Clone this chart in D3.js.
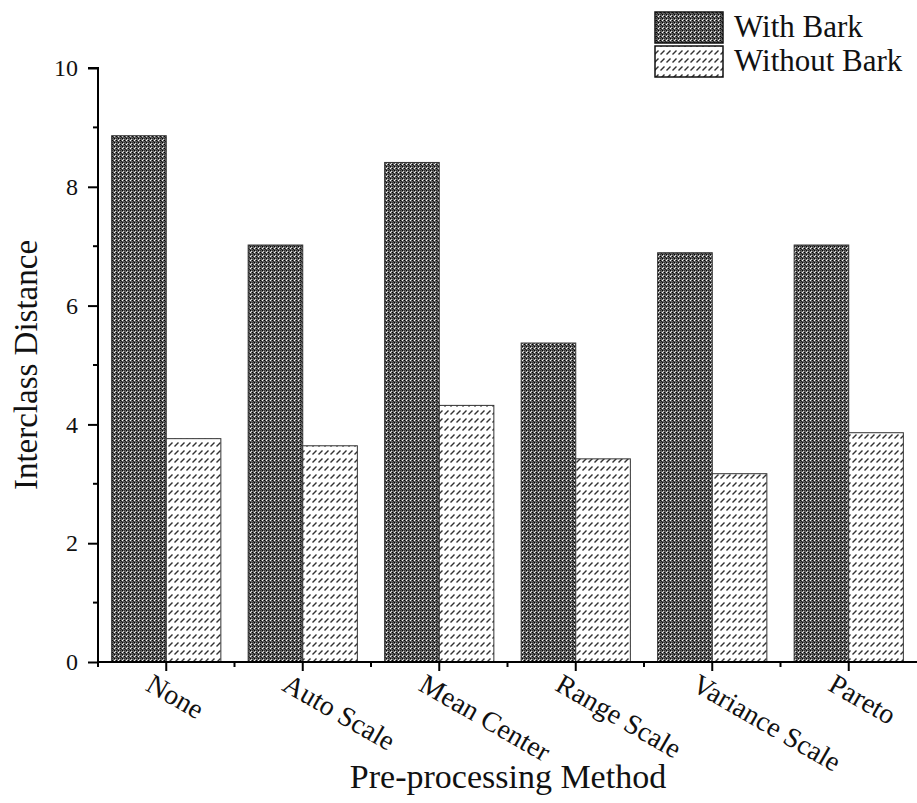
<!DOCTYPE html>
<html>
<head>
<meta charset="utf-8">
<script src="https://cdn.jsdelivr.net/npm/d3@7"></script>
<style>
html,body{margin:0;padding:0;background:#fff;}
svg text{font-family:"Liberation Serif","Times New Roman",serif;fill:#111;}
</style>
</head>
<body>
<svg id="chart" width="917" height="803"></svg>
<script>
const categories = ["None","Auto Scale","Mean Center","Range Scale","Variance Scale","Pareto"];
const seriesNames = ["With Bark","Without Bark"];
const withBark = [8.86, 7.02, 8.41, 5.37, 6.89, 7.02];
const withoutBark = [3.76, 3.64, 4.32, 3.42, 3.17, 3.86];
const yTicks = [0,2,4,6,8,10];
const yMinorTicks = [1,3,5,7,9];

const svg = d3.select("#chart");
const defs = svg.append("defs");

// dense dark pattern
const p1 = defs.append("pattern").attr("id","pDark").attr("patternUnits","userSpaceOnUse")
  .attr("width",4).attr("height",4);
p1.append("rect").attr("width",4).attr("height",4).attr("fill","#606060");
p1.append("rect").attr("x",0).attr("y",0).attr("width",1).attr("height",1).attr("fill","#000");
p1.append("rect").attr("x",2).attr("y",2).attr("width",1).attr("height",1).attr("fill","#000");
p1.append("rect").attr("x",2).attr("y",0).attr("width",1).attr("height",1).attr("fill","#f4f4f4");
p1.append("rect").attr("x",0).attr("y",2).attr("width",1).attr("height",1).attr("fill","#333");
p1.append("rect").attr("x",1).attr("y",1).attr("width",1).attr("height",1).attr("fill","#222");
p1.append("rect").attr("x",3).attr("y",3).attr("width",1).attr("height",1).attr("fill","#ddd");

// hatch pattern
const p2 = defs.append("pattern").attr("id","pHatch").attr("patternUnits","userSpaceOnUse")
  .attr("width",6).attr("height",8);
p2.append("rect").attr("width",6).attr("height",8).attr("fill","#fff");
p2.append("path").attr("d","M0.5,6.5 L4.5,2.5").attr("stroke","#333").attr("stroke-width",1.4);

const x0 = d3.scaleBand().domain(categories).range([98,917]).paddingInner(0.2).paddingOuter(0.1);
const x1 = d3.scaleBand().domain(seriesNames).range([0,x0.bandwidth()]);
const y = d3.scaleLinear().domain([0,10]).range([662,68]);

const fills = {"With Bark":"url(#pDark)","Without Bark":"url(#pHatch)"};
const vals = {"With Bark":withBark,"Without Bark":withoutBark};

const g = svg.append("g");
categories.forEach((c,i)=>{
  seriesNames.forEach(s=>{
    const v = vals[s][i];
    g.append("rect")
      .attr("x", x0(c)+x1(s))
      .attr("y", y(v))
      .attr("width", x1.bandwidth())
      .attr("height", y(0)-y(v))
      .attr("fill", fills[s])
      .attr("stroke","#333").attr("stroke-width",1);
  });
});

// Y axis
const yAxis = svg.append("g").attr("transform","translate(98,0)")
  .call(d3.axisLeft(y).tickValues(yTicks).tickSize(10).tickFormat(d3.format("d")).tickPadding(10));
yAxis.select(".domain").attr("stroke","#000").attr("stroke-width",2).attr("d","M-10,68H0V662");
yAxis.selectAll(".tick line").attr("stroke","#000").attr("stroke-width",2);
yAxis.selectAll(".tick text").attr("font-size",24).attr("font-family","Liberation Serif");
yAxis.selectAll(".minor").data(yMinorTicks).enter().append("line")
  .attr("x1",-5).attr("x2",0).attr("y1",d=>y(d)).attr("y2",d=>y(d))
  .attr("stroke","#000").attr("stroke-width",2);

// X axis
const xAxisG = svg.append("g").attr("transform","translate(0,662)");
xAxisG.append("line").attr("x1",97).attr("x2",917).attr("y1",0).attr("y2",0)
  .attr("stroke","#000").attr("stroke-width",2);
const xs = x0.step();
categories.forEach((c,i)=>{
  const cx = x0(c)+x0.bandwidth()/2;
  xAxisG.append("line").attr("x1",cx).attr("x2",cx).attr("y1",0).attr("y2",9)
    .attr("stroke","#000").attr("stroke-width",2);
  const mx = cx - xs/2;
  xAxisG.append("line").attr("x1",mx).attr("x2",mx).attr("y1",0).attr("y2",5)
    .attr("stroke","#000").attr("stroke-width",2);
  xAxisG.append("text").attr("transform",`translate(${cx-17},${19}) rotate(30)`)
    .attr("font-size",28).attr("text-anchor","start").attr("dy","0.35em").text(c);
});

// axis titles
svg.append("text").attr("transform","translate(37,365) rotate(-90)")
  .attr("text-anchor","middle").attr("font-size",33).text("Interclass Distance");
svg.append("text").attr("x",508).attr("y",788)
  .attr("text-anchor","middle").attr("font-size",34).text("Pre-processing Method");

// legend
const leg = svg.append("g");
seriesNames.forEach((s,i)=>{
  const yy = 12 + i*34;
  leg.append("rect").attr("x",655).attr("y",yy).attr("width",68).attr("height",31)
    .attr("fill",fills[s]).attr("stroke","#111").attr("stroke-width",1.5);
  leg.append("text").attr("x",734).attr("y",yy+25).attr("font-size",31).text(s);
});
</script>
</body>
</html>
